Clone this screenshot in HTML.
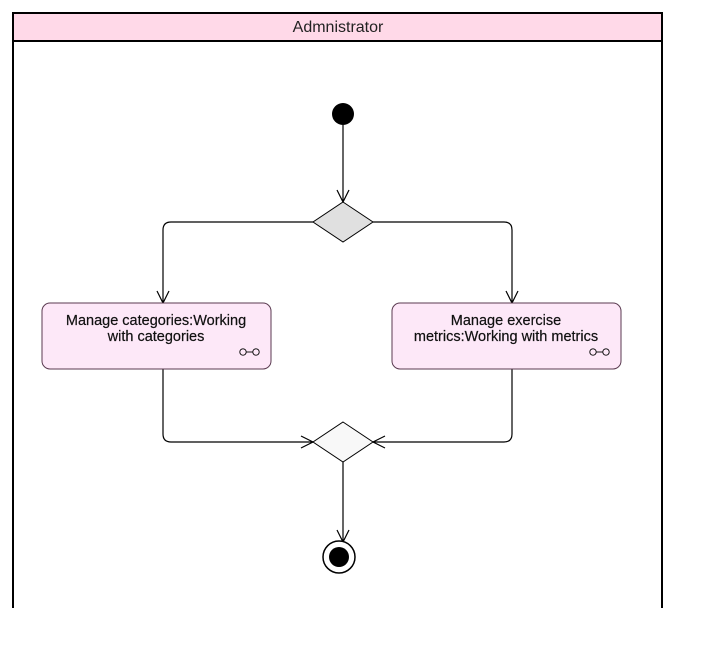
<!DOCTYPE html>
<html><head><style>body{margin:0;background:#fff}</style></head><body>
<svg width="712" height="661" xmlns="http://www.w3.org/2000/svg" style="display:block">
<rect x="13" y="13" width="649" height="28" fill="#ffd9e8" stroke="#000" stroke-width="2"/>
<text x="338" y="32" font-family="Liberation Sans, sans-serif" font-size="16" text-anchor="middle" fill="#222">Admnistrator</text>
<line x1="13" y1="41" x2="13" y2="608" stroke="#000" stroke-width="2"/>
<line x1="662" y1="41" x2="662" y2="608" stroke="#000" stroke-width="2"/>
<g stroke="#000" stroke-width="1.2" fill="none">
<line x1="343" y1="125" x2="343" y2="202"/>
<polyline points="337,190 343,202 349,190"/>
<path d="M313,222 H171 Q163,222 163,230 V303"/>
<polyline points="157,291 163,303 169,291"/>
<path d="M373,222 H504 Q512,222 512,230 V303"/>
<polyline points="506,291 512,303 518,291"/>
<path d="M163,369 V434 Q163,442 171,442 H313"/>
<polyline points="301,436 313,442 301,448"/>
<path d="M512,369 V434 Q512,442 504,442 H373"/>
<polyline points="385,436 373,442 385,448"/>
<line x1="343" y1="462" x2="343" y2="542"/>
<polyline points="337,530 343,542 349,530"/>
</g>
<circle cx="343" cy="114" r="11" fill="#000"/>
<polygon points="343,202 373,222 343,242 313,222" fill="#e0e0e0" stroke="#000" stroke-width="1"/>
<polygon points="343,422 373,442 343,462 313,442" fill="#f8f8f8" stroke="#000" stroke-width="1"/>
<circle cx="339" cy="557" r="16" fill="#fff" stroke="#000" stroke-width="1.5"/>
<circle cx="339" cy="557" r="10" fill="#000"/>
<rect x="42" y="303" width="229" height="66" rx="8" fill="#fde8f8" stroke="#5a3a50" stroke-width="1"/>
<rect x="392" y="303" width="229" height="66" rx="8" fill="#fde8f8" stroke="#5a3a50" stroke-width="1"/>
<g font-family="Liberation Sans, sans-serif" font-size="14.5" text-anchor="middle" fill="#111" stroke="#111" stroke-width="0.2">
<text x="156" y="325">Manage categories:Working</text>
<text x="156" y="341">with categories</text>
<text x="506" y="325">Manage exercise</text>
<text x="506" y="341">metrics:Working with metrics</text>
</g>
<g stroke="#000" stroke-width="0.9" fill="none">
<circle cx="243" cy="352" r="3.2"/><circle cx="256" cy="352" r="3.2"/><line x1="246" y1="352" x2="253" y2="352"/>
<circle cx="593" cy="352" r="3.2"/><circle cx="606" cy="352" r="3.2"/><line x1="596" y1="352" x2="603" y2="352"/>
</g>
</svg>
</body></html>
